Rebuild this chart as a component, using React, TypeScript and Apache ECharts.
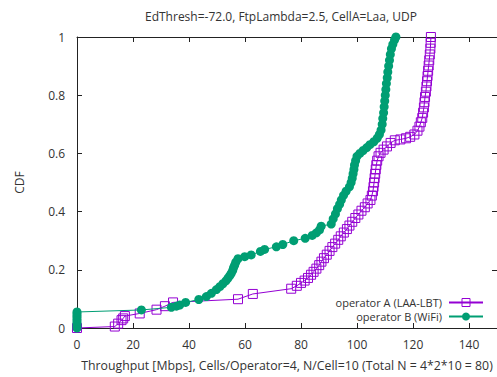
import React, { useEffect, useRef } from "react";
import * as echarts from "echarts";

const titleText = "EdThresh=-72.0, FtpLambda=2.5, CellA=Laa, UDP";
const xAxisName = "Throughput [Mbps], Cells/Operator=4, N/Cell=10 (Total N = 4*2*10 = 80)";
const yAxisName = "CDF";
const seriesNames = ["operator A (LAA-LBT)", "operator B (WiFi)"];

// operator A (LAA-LBT): [throughput, cdf]
const operatorA: [number, number][] = [
  [0, 0], [13.5, 0.005], [14.7, 0.015], [15.9, 0.027], [16.5, 0.033], [17.1, 0.041],
  [22.4, 0.05], [28.4, 0.063], [31.4, 0.075], [34.3, 0.088], [57.5, 0.099], [62.8, 0.117],
  [76.5, 0.135], [78.5, 0.145], [80, 0.155], [81.3, 0.163], [82.5, 0.172], [83.6, 0.183],
  [84.5, 0.193], [85.5, 0.204], [86.5, 0.216], [87.3, 0.228], [88.2, 0.24], [89.2, 0.252],
  [90.2, 0.265], [91.2, 0.278], [92.2, 0.29], [93.3, 0.303], [94.2, 0.315], [95.3, 0.328],
  [96.4, 0.34], [97.3, 0.352], [98.3, 0.365], [99.4, 0.378], [100.5, 0.39], [101.6, 0.403],
  [102.8, 0.415], [103.8, 0.428], [104.8, 0.44], [105.3, 0.455], [105.7, 0.47], [105.9, 0.485],
  [106.1, 0.5], [106.3, 0.515], [106.5, 0.53], [106.7, 0.545], [106.9, 0.56], [107.2, 0.575],
  [107.7, 0.59], [108.4, 0.602], [109.5, 0.613], [110.7, 0.624], [112, 0.636], [113.5, 0.645],
  [115.5, 0.648], [117.5, 0.652], [119, 0.657], [120.5, 0.665], [121.6, 0.678], [122.3, 0.692],
  [122.8, 0.707], [123.3, 0.722], [123.6, 0.74], [123.9, 0.758], [124.1, 0.776], [124.3, 0.794],
  [124.6, 0.812], [124.8, 0.83], [125, 0.848], [125.2, 0.866], [125.4, 0.884], [125.6, 0.902],
  [125.8, 0.92], [126, 0.94], [126.2, 0.96], [126.3, 0.98], [126.4, 1.0],
];

// operator B (WiFi): [throughput, cdf]
const operatorB: [number, number][] = [
  [0, 0], [0, 0.008], [0, 0.016], [0, 0.024], [0, 0.032], [0, 0.04], [0, 0.048], [0, 0.055],
  [23, 0.062], [33.7, 0.071], [35.5, 0.075], [36.7, 0.079], [38.8, 0.088], [43.5, 0.098],
  [46.2, 0.108], [48, 0.119], [49.8, 0.132], [51, 0.142], [52.1, 0.152], [53.2, 0.162],
  [53.9, 0.171], [54.6, 0.18], [55.1, 0.188], [55.6, 0.198], [55.9, 0.207], [56.3, 0.216],
  [56.7, 0.226], [57.5, 0.238], [59.9, 0.245], [62.2, 0.251], [65.5, 0.263], [67, 0.27],
  [71.2, 0.279], [73.5, 0.287], [77.4, 0.3], [81.5, 0.308], [84, 0.318], [85.5, 0.327],
  [86.6, 0.337], [87.2, 0.35], [90.8, 0.357], [91.5, 0.375], [92.3, 0.392], [93, 0.41],
  [93.8, 0.425], [94.4, 0.44], [95.2, 0.456], [96.1, 0.47], [97.3, 0.485], [97.9, 0.5],
  [98.3, 0.515], [98.6, 0.53], [98.9, 0.545], [99.1, 0.56], [99.5, 0.575], [100, 0.59],
  [101, 0.6], [102.2, 0.61], [103.5, 0.62], [104.6, 0.63], [106, 0.64], [107.2, 0.652],
  [108, 0.665], [108.6, 0.68], [109, 0.7], [109.2, 0.72], [109.5, 0.74], [109.7, 0.76],
  [109.9, 0.78], [110.1, 0.8], [110.3, 0.82], [110.5, 0.84], [110.8, 0.86], [111, 0.88],
  [111.3, 0.9], [111.6, 0.92], [111.9, 0.94], [112.3, 0.96], [112.8, 0.975], [113.4, 0.99],
  [113.9, 1.0],
];

const xMin = 0, xMax = 150, xInterval = 20;
const yMin = 0, yMax = 1, yInterval = 0.2;

const colorA = "#9400d3";
const colorB = "#009e73";
const font = "'Open Sans', 'Noto Sans', sans-serif";
const textColor = "#333";
const axisColor = "#222";

export default function App() {
  const ref = useRef<HTMLDivElement>(null);
  useEffect(() => {
    if (!ref.current) return;
    const chart = echarts.init(ref.current, null, { renderer: "svg" });
    const tickCommon = { show: true, inside: true, length: 5, lineStyle: { color: axisColor, width: 1 } };
    const lineCommon = { show: true, onZero: false, lineStyle: { color: axisColor, width: 1 } };
    chart.setOption({
      animation: false,
      textStyle: { fontFamily: font },
      title: {
        text: titleText,
        left: 140,
        top: 5,
        textStyle: { fontSize: 12, fontWeight: "normal", color: textColor, fontFamily: font },
      },
      grid: { left: 77, top: 37, right: 0, bottom: 49, containLabel: false },
      legend: {
        orient: "vertical",
        right: 13,
        top: 297,
        align: "right",
        itemWidth: 34,
        itemHeight: 10,
        itemGap: 3,
        padding: 0,
        data: [
          { name: seriesNames[0], itemStyle: { borderWidth: 1, borderColor: colorA, color: "rgba(0,0,0,0)" } },
          { name: seriesNames[1], itemStyle: { borderWidth: 0, color: colorB } },
        ],
        textStyle: { fontSize: 11, lineHeight: 11, color: textColor, fontFamily: font, padding: [0, 2, 0, 0] },
      },
      xAxis: [
        {
          type: "value",
          min: xMin,
          max: xMax,
          interval: xInterval,
          position: "bottom",
          name: xAxisName,
          nameLocation: "middle",
          nameGap: 31,
          nameTextStyle: { fontSize: 12.3, color: textColor, fontFamily: font },
          axisLine: lineCommon,
          axisTick: tickCommon,
          axisLabel: { showMaxLabel: false, fontSize: 12, color: textColor, margin: 10, fontFamily: font },
          splitLine: { show: false },
        },
        {
          type: "value",
          min: xMin,
          max: xMax,
          interval: xInterval,
          position: "top",
          axisLine: lineCommon,
          axisTick: tickCommon,
          axisLabel: { show: false },
          splitLine: { show: false },
        },
      ],
      yAxis: [
        {
          type: "value",
          min: yMin,
          max: yMax,
          interval: yInterval,
          position: "left",
          name: yAxisName,
          nameLocation: "middle",
          nameGap: 52,
          nameTextStyle: { fontSize: 12, color: textColor, fontFamily: font },
          axisLine: lineCommon,
          axisTick: tickCommon,
          axisLabel: { fontSize: 12, color: textColor, margin: 12, fontFamily: font },
          splitLine: { show: false },
        },
        {
          type: "value",
          min: yMin,
          max: yMax,
          interval: yInterval,
          position: "right",
          axisLine: lineCommon,
          axisTick: tickCommon,
          axisLabel: { show: false },
          splitLine: { show: false },
        },
      ],
      series: [
        {
          name: seriesNames[0],
          type: "line",
          data: operatorA,
          clip: false,
          symbol: "rect",
          symbolSize: 9,
          lineStyle: { color: colorA, width: 1 },
          itemStyle: { color: "rgba(0,0,0,0)", borderColor: colorA, borderWidth: 1 },
          z: 2,
        },
        {
          name: seriesNames[1],
          type: "line",
          data: operatorB,
          clip: false,
          symbol: "circle",
          symbolSize: 9,
          lineStyle: { color: colorB, width: 1 },
          itemStyle: { color: colorB },
          z: 3,
        },
      ],
    });
    return () => chart.dispose();
  }, []);
  return (
    <div
      ref={ref}
      style={{ position: "fixed", left: 0, top: 0, width: 497, height: 377, background: "#fff" }}
    />
  );
}
